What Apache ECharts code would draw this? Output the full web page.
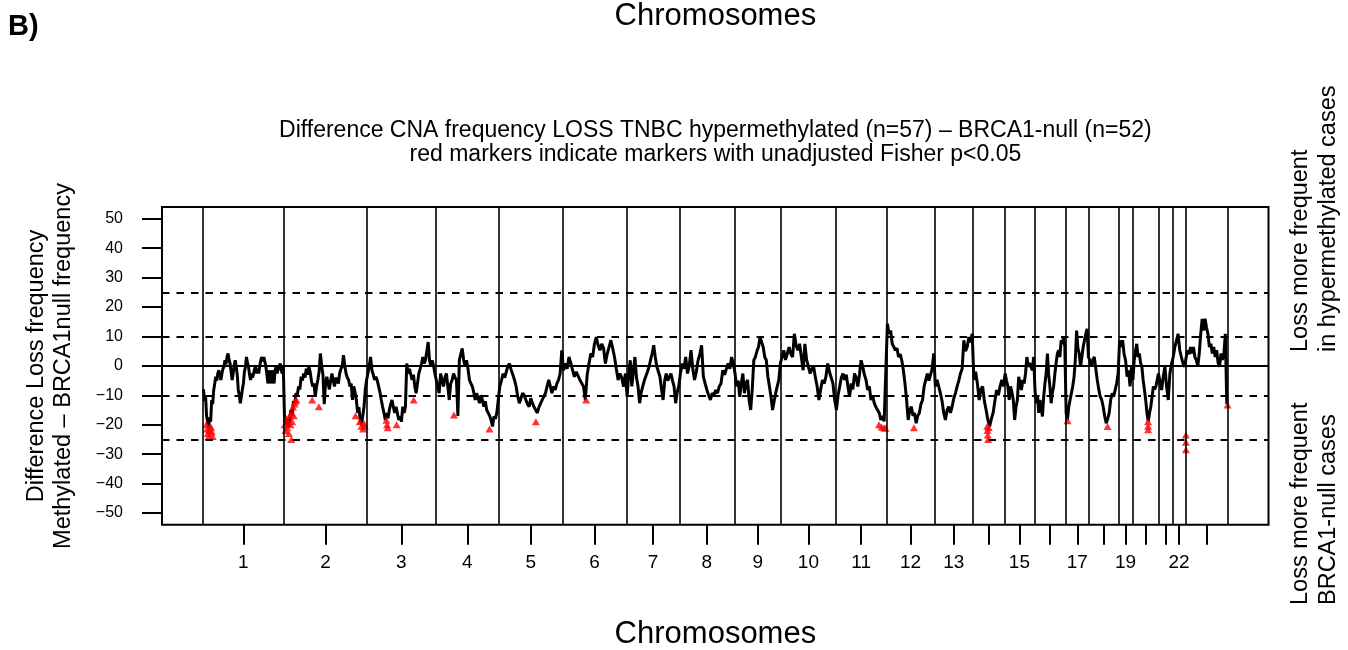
<!DOCTYPE html>
<html><head><meta charset="utf-8">
<script src="https://cdn.jsdelivr.net/npm/echarts@6/dist/echarts.min.js"></script>
<style>html,body{margin:0;padding:0;background:#fff}#c{width:1348px;height:650px}</style>
</head><body><div id="c"></div>
<script>
// ---------- data ----------
const chromNames = ['1','2','3','4','5','6','7','8','9','10','11','12','13','14','15','16','17','18','19','20','21','22','X'];
// relative chromosome sizes (marker units)
const chromSize = [80.8,83.4,68.3,63.4,63.6,63.7,53.2,54.7,46.9,54.4,51.0,47.9,38.5,31.4,29.9,31.1,23.6,29.8,13.4,26.8,13.3,13.1,42.0];
const labelledChroms = ['1','2','3','4','5','6','7','8','9','10','11','12','13','15','17','19','22'];
const yTickValues = [-50,-40,-30,-20,-10,0,10,20,30,40,50];
const dashedRefValues = [25,10,-10,-25];
const solidRefValues = [0];

// difference in loss frequency (%) along each chromosome
const chr1 = [-8,-12,-10,-17,-19,-21,-17.5,-19,-11.6,-13,-8.2,-6,-3.7,-5,-2.6,-1.5,-3,-4.8,-2.6,-1,-0.3,1.9,0.5,3,4.2,2,0.8,-2,-4.8,-2.6,0,1.9,-0.3,-3,-8.2,-10,-12.7,-10.5,-8,-6,-2,-0.3,3,1,-0.3,-3,-4.8,-2.6,-4,-3.7,-1,-0.3,-2.6,-1,-2.6,0,1.9,3,1.5,3,3,-0.3,-3,-6,-1.5,-4,-6,-1.5,-3,-6,-1.5,-0.3,-2.6,-1,-0.3,0.8,-1.5,-2.6,-0.3];
const chr2 = [-17,-20,-18,-21,-19,-15,-17,-12,-13,-9.3,-10,-7,-8,-3.7,-5,-2.6,-4,-1,-3,0,-2,-5,-7,-6,-10.5,-7,-4.8,-2,4.2,0,-3,-13,-6,-3.7,-6,-8,-5,-2.6,-5,-7,-4,-3.7,-6,-2.6,-1,-0.3,3.6,0,-2.6,-4,-4.8,-7,-6,-11.6,-7,-9,-11.6,-16,-14,-18.4,-20,-17,-14,-8,-4.8];
const chr3 = [-2.6,0,3,-1.5,-3,-4.8,-3.7,-5,-7,-9,-11.6,-14,-16,-18.4,-16,-17.8,-15,-13,-11.6,-14,-16,-13.9,-16,-18.4,-17.2,-19,-13.9,-16,-14,0.8,-2.6,-1,-1.5,-4.8,-3,-7,-9.3,-6,-2.6,-1,0.8,3,0.8,2,1.9,8.1,1.9,-0.3,1.9,0,-2.6];
const chr4 = [-4.8,-7,-9.3,-2.6,-5,-7,-4,-2.6,-7,-11.6,-6,-4.8,-2.6,-4,-4.8,-17,1.9,4,5.9,2,-0.3,1.9,-1,-4.8,-6,-7,-9,-11.6,-9.3,-11,-12.7,-10,-11.6,-13.9,-12,-15,-16,-17,-18.4,-20.6,-17.2,-18,-16,-11.6];
const chr5 = [-7,-5,-2.6,-4,-2,0,0.8,-1.5,-3,-4.8,-7,-10.5,-12.7,-11,-9.3,-10,-11.6,-13,-13.9,-11,-12.7,-14,-15,-16,-14,-13.9,-11.6,-12,-9.3,-7,-4.8,-7,-9.3,-7,-8.2,-6,-4.8,-2.6,5.3];
const chr6 = [-1.5,0.8,-1,3,1,-1.5,-3.7,-2,-1.5,-4.8,-5,-7,-11.6,-3,0.8,4.2,3,7.5,9.8,7,5.3,7.5,6,0.8,4,6.4,8.7,6,3,-1,-4.8,-2.6,-4,-7.1,-2.6];
const chr7 = [-10.5,-3,1.9,-7,-2,3,-4,-7,-12.7,-9,-7,-5,-4.8,-2,-0.3,2,4.2,7,3,-0.3,-2,-3.7,-8,-11.6,-5,-2.6,-5,-4.8,-2.6,-5,-7,-12.7,-9,-7];
const chr8 = [-2.6,0.8,-1,3,-2.6,0,5.3,-1,-4.8,-2,1.9,4,7,-3.7,-6,-8.2,-10,-11.6,-9.3,-10,-8.2,-9.3,-7,-6,-1.5,-3,-2.6,0.8,-1,3,0.8];
const chr9 = [-2.6,-7,-5,-10.5,-6,-2.6,-9.3,-6,-4.8,-11.6,-15,-8,1.9,3,5,6.4,9.8,8,6.4,3,1.9,-3.7,-7,-10.5,-15,-12,-9.3,-7,-4.8,0.8];
const chr10 = [3,5.3,2,1.9,6.4,4,3,10.9,7,5.3,7.5,3,-1.5,7.5,2,-0.3,-2.6,-1,-0.3,-4,-7,-11.6,-8,-4.8,-6,-3.7,0.8,-2,-2.6,-6,-11.6];
const chr11 = [-15,-10,-7,-4,-2.6,-4.8,-3,-7,-10.5,-6,-8,-2.6,-4,-7,-3,1.9,-0.3,-3,-4.8,-8.2,-7,-11.6,-10,-12.7,-14,-15,-16,-18.4,-17,-18.9,-19.5];
const chr12 = [14.3,10.9,12,7.5,8,5.3,6,3,4,1.9,-1.5,-6,-11.6,-18.4,-15,-13.9,-17,-16,-19.5,-17,-16,-13,-11.6,-7,-4.8,-2.6,-5,-4.8,-1,4.2];
const chr13 = [-7,-4.8,-7,-9.3,-12,-16,-18.4,-15,-13.9,-16,-13.9,-11,-9.3,-7,-5,-2.6,-1,8.7,5,6.4,9.8,8,10.9];
const chr14 = [-4.8,-2,-6,-11.6,-8,-7,-12,-15,-18.4,-20.6,-18,-16,-12,-8.2,-10,-7,-4.8,-7];
const chr15 = [-2.6,-5,-7,-11.6,-7,-9,-11.6,-18.4,-14,-11.6,-3.7,-6,-8.2,-4.8,-6,-2.6,3,-0.3,1,0.8,-1.5,3];
const chr16 = [-8.2,-12.7,-10,-16,-11.6,-14,-17.2,-10.5,-6,-2.6,4.2,-3,-7,-12.7,-9,-7,-2.6,1,4.2,5.3,3,8.7,7.5,9.8,6.4];
const chr17 = [-16,-18.4,-14,-11.6,-9.3,-7,-4,1.9,12,6,4.2,-0.3,3,6.4,8.7,10.9,12.6,3];
const chr18 = [1.9,-0.3,2,3,-1,-4.8,-8,-10.5,-11.6,-14,-17.2,-19.5,-18,-16,-11.6,-9.3,-10.5,-8.2,-6,-2.6];
const chr19 = [8.7,6.4,8.7,4,1.9,-3.7,-1.5,-7,-0.3];
const chr20 = [-4.8,1.9,5,7.5,3,4.2,1,-0.3,-4.8,-8,-11.6,-16,-18.9,-16,-13.9,-10.5,-7,-8,-7,-4.8,-2.6];
const chr21 = [-2.6,-8.2,-3.7,-0.3,-7,-11.6,-2.6,0.8];
const chr22 = [3,6.4,8.7,10.9,5.3,3,0.8,-0.3];
const chrX = [3,5.3,4,6.4,4.2,6.4,3,1.9,0,4.2,10.9,16,12,16,13,10.9,6.4,7.5,4.2,6.4,3,5.3,1,-0.3,4.2,2,4.2,10.9,-13];
const chromValues = [chr1,chr2,chr3,chr4,chr5,chr6,chr7,chr8,chr9,chr10,chr11,chr12,chr13,chr14,chr15,chr16,chr17,chr18,chr19,chr20,chr21,chr22,chrX];

// markers with unadjusted Fisher p<0.05: [chromosome, relative position in chromosome, value]
const sigMarkers = [
  ['1',0.04,-20],['1',0.05,-21.5],['1',0.06,-23],['1',0.07,-24],['1',0.08,-22],['1',0.09,-20.5],['1',0.10,-21],['1',0.11,-22.5],['1',0.12,-24],
  ['2',0.01,-20],['2',0.02,-22],['2',0.03,-18],['2',0.04,-21],['2',0.05,-19],['2',0.06,-23],['2',0.07,-17],['2',0.08,-20],['2',0.09,-25],['2',0.09,-16],['2',0.10,-19],['2',0.11,-14],['2',0.12,-17],['2',0.13,-13],['2',0.14,-12],['2',0.15,-11.5],
  ['2',0.34,-11.6],['2',0.42,-13.9],['2',0.86,-17],['2',0.91,-19],['2',0.93,-20.5],['2',0.95,-21.5],['2',0.96,-19.5],['2',0.97,-20.5],
  ['3',0.28,-18.5],['3',0.29,-20],['3',0.30,-21],['3',0.43,-20],['3',0.68,-11.6],
  ['4',0.29,-16.7],['4',0.85,-21.5],
  ['5',0.58,-19],
  ['6',0.37,-11.6],
  ['11',0.85,-20],['11',0.90,-20.8],['11',0.95,-21],['11',0.98,-21.2],
  ['12',0.57,-21],
  ['14',0.45,-20.5],['14',0.46,-22],['14',0.47,-23.5],['14',0.48,-25],['14',0.50,-21],
  ['17',0.09,-18.7],
  ['18',0.62,-20.6],
  ['20',0.59,-19],['20',0.59,-20.5],['20',0.59,-21.7],
  ['X',0.01,-23.5],['X',0.01,-26],['X',0.01,-28.5],
  ['X',1.0,-13.3]
];

// ---------- build ----------
const total = chromSize.reduce((a,b)=>a+b,0);
const pad = total*0.04;
const starts = []; let acc = 0;
chromSize.forEach(s=>{starts.push(acc); acc+=s;});
const centers = starts.map((s,i)=>s+chromSize[i]/2);
const boundaries = starts.concat([total]);

const lineData = [];
chromValues.forEach((vals,c)=>{
  const n = vals.length;
  vals.forEach((v,i)=>lineData.push([starts[c] + (i+0.5)/n*chromSize[c], v]));
});
const sigData = sigMarkers.map(([ch,f,v])=>{
  const c = chromNames.indexOf(ch);
  return [starts[c] + f*chromSize[c], v];
});
const labelCenters = centers.filter((c,i)=>labelledChroms.includes(chromNames[i]));

const markLines = [];
boundaries.forEach(b=>markLines.push({xAxis:b, lineStyle:{type:'solid',width:1.6,color:'#000'}}));
dashedRefValues.forEach(v=>markLines.push({yAxis:v, lineStyle:{type:[7.5,7],width:2,color:'#000'}}));
solidRefValues.forEach(v=>markLines.push({yAxis:v, lineStyle:{type:'solid',width:2,color:'#000'}}));

const FONT = '"Liberation Sans", Arial, Helvetica, sans-serif';
const chart = echarts.init(document.getElementById('c'), null, {renderer:'canvas'});
chart.setOption({
  animation:false,
  backgroundColor:'#ffffff',
  textStyle:{fontFamily:FONT},
  grid:{left:162, top:207, right:79.5, bottom:125.3, show:true, borderColor:'#000', borderWidth:2, containLabel:false},
  xAxis:{
    type:'value', min:-pad, max:total+pad, position:'bottom',
    axisLine:{show:false, onZero:false}, splitLine:{show:false},
    axisTick:{show:true, inside:false, customValues:centers, length:20, lineStyle:{color:'#000', width:2}},
    axisLabel:{show:true, customValues:labelCenters, margin:29, fontSize:19, color:'#000', fontFamily:FONT,
      formatter:v=>{ const i = centers.findIndex(c=>Math.abs(c-v)<1e-6); return i>=0 ? chromNames[i] : ''; }}
  },
  yAxis:{
    type:'value', min:-54, max:54, position:'left',
    axisLine:{show:false, onZero:false}, splitLine:{show:false},
    axisTick:{show:true, inside:false, customValues:yTickValues, length:20, lineStyle:{color:'#000', width:2}},
    axisLabel:{show:true, customValues:yTickValues, margin:39, fontSize:16, color:'#000', fontFamily:FONT,
      formatter:v=>String(v).replace('-','\u2212')}
  },
  series:[
    {type:'line', data:[], z:1, silent:true,
      markLine:{silent:true, symbol:['none','none'], label:{show:false}, animation:false, data:markLines}},
    {type:'line', data:lineData, z:2, symbol:'none', showSymbol:false, silent:true,
      lineStyle:{color:'#000', width:3}},
    {type:'scatter', data:sigData, z:3, symbol:'triangle', symbolSize:[8,7], silent:true,
      itemStyle:{color:'#ff0000'}}
  ],
  graphic:[
    {type:'text', x:8, y:27, style:{text:'B)', font:'bold 29px '+FONT, fill:'#000', align:'left', verticalAlign:'middle'}},
    {type:'text', x:715.4, y:16, style:{text:'Chromosomes', font:'31px '+FONT, fill:'#000', align:'center', verticalAlign:'middle'}},
    {type:'text', x:715.4, y:634, style:{text:'Chromosomes', font:'31px '+FONT, fill:'#000', align:'center', verticalAlign:'middle'}},
    {type:'text', x:715.4, y:131, style:{text:'Difference CNA frequency LOSS TNBC hypermethylated (n=57) \u2013 BRCA1-null (n=52)', font:'23px '+FONT, fill:'#000', align:'center', verticalAlign:'middle'}},
    {type:'text', x:715.4, y:155, style:{text:'red markers indicate markers with unadjusted Fisher p<0.05', font:'23px '+FONT, fill:'#000', align:'center', verticalAlign:'middle'}},
    {type:'text', x:37, y:366, rotation:Math.PI/2, style:{text:'Difference Loss frequency', font:'23.5px '+FONT, fill:'#000', align:'center', verticalAlign:'middle'}},
    {type:'text', x:63.5, y:366, rotation:Math.PI/2, style:{text:'Methylated \u2013 BRCA1null frequency', font:'23.5px '+FONT, fill:'#000', align:'center', verticalAlign:'middle'}},
    {type:'text', x:1301, y:352, rotation:Math.PI/2, style:{text:'Loss more frequent', font:'23.5px '+FONT, fill:'#000', align:'left', verticalAlign:'middle'}},
    {type:'text', x:1329, y:352, rotation:Math.PI/2, style:{text:'in hypermethylated cases', font:'23.5px '+FONT, fill:'#000', align:'left', verticalAlign:'middle'}},
    {type:'text', x:1301, y:605, rotation:Math.PI/2, style:{text:'Loss more frequent', font:'23.5px '+FONT, fill:'#000', align:'left', verticalAlign:'middle'}},
    {type:'text', x:1329, y:605, rotation:Math.PI/2, style:{text:'BRCA1-null cases', font:'23.5px '+FONT, fill:'#000', align:'left', verticalAlign:'middle'}}
  ]
});
</script>
</body></html>
